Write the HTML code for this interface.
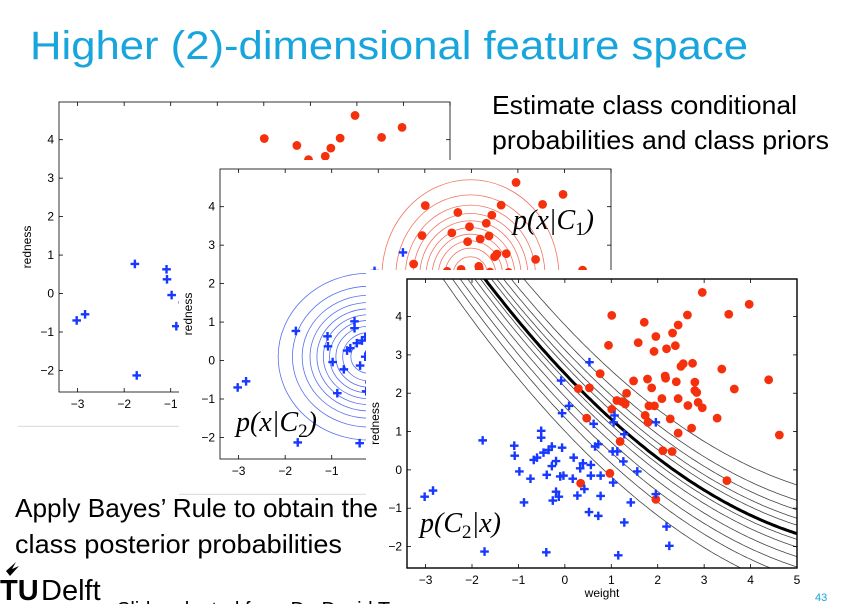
<!DOCTYPE html>
<html><head><meta charset="utf-8"><style>
html,body{margin:0;padding:0;background:#fff;}
svg{display:block;}
</style></head><body>
<svg id="slide" width="845" height="604" viewBox="0 0 845 604" xmlns="http://www.w3.org/2000/svg">
<rect x="0" y="0" width="845" height="604" fill="#fff"/>
<g id="panels"></g>
<text x="30" y="59" font-family="Liberation Sans, sans-serif" font-size="40" fill="#17a5dc" textLength="718" lengthAdjust="spacingAndGlyphs">Higher (2)-dimensional feature space</text>
<text x="492" y="114" font-family="Liberation Sans, sans-serif" font-size="26" fill="#000" textLength="305" lengthAdjust="spacingAndGlyphs">Estimate class conditional</text>
<text x="492" y="149" font-family="Liberation Sans, sans-serif" font-size="26" fill="#000" textLength="337" lengthAdjust="spacingAndGlyphs">probabilities and class priors</text>
<text x="15" y="517" font-family="Liberation Sans, sans-serif" font-size="26" fill="#000" textLength="363" lengthAdjust="spacingAndGlyphs">Apply Bayes’ Rule to obtain the</text>
<text x="15" y="553" font-family="Liberation Sans, sans-serif" font-size="26" fill="#000" textLength="327" lengthAdjust="spacingAndGlyphs">class posterior probabilities</text>
<g>
<path d="M6 571 L16 562 L12 569 L19 566 L10 576 Z" fill="#000"/>
<text x="0" y="600" font-family="Liberation Sans, sans-serif" font-size="29" font-weight="bold" fill="#000">TU</text>
<text x="41" y="600" font-family="Liberation Sans, sans-serif" font-size="29" fill="#000">Delft</text>
</g>
<text x="117" y="616" font-family="Liberation Sans, sans-serif" font-size="20" fill="#000">Slide adapted from Dr. David Tax</text>
<text x="815" y="601" font-family="Liberation Sans, sans-serif" font-size="11" fill="#17a5dc">43</text>
</svg>
<script>
const redX=[1.01,1.71,0.94,1.58,1.96,1.92,2.19,2.32,2.44,2.64,2.38,2.96,3.53,3.97,3.38,4.39,3.65,4.62,3.28,3.49,0.76,0.53,0.29,0.47,1.01,1.12,1.23,1.30,1.33,1.19,1.48,1.78,1.87,1.81,1.93,1.73,1.79,2.09,2.16,2.17,2.40,2.27,2.44,2.44,2.11,2.31,2.50,2.55,2.75,2.80,2.80,2.84,2.65,2.87,2.96,2.73,0.97,0.34,1.96];
const redY=[4.03,3.85,3.25,3.32,3.48,3.09,3.16,3.57,3.78,4.04,3.24,4.63,4.06,4.32,2.63,2.35,2.11,0.91,1.35,-0.28,2.51,2.14,2.12,1.35,1.58,1.81,1.78,1.72,2.0,0.74,2.32,2.37,2.14,1.67,1.67,1.42,1.24,1.86,2.45,2.39,2.30,1.33,1.86,0.96,0.50,0.48,2.70,2.77,2.78,2.29,2.07,2.02,1.68,1.76,1.62,1.09,-0.09,-0.35,-0.77];
const blueX=[0.53,-0.08,0.09,-0.06,1.07,0.62,1.05,1.96,1.28,0.72,0.65,1.03,1.13,1.26,1.56,1.04,0.77,0.77,1.42,1.96,0.52,0.72,1.28,2.19,2.25,1.15,-0.40,-1.73,-1.77,-3.02,-2.84,-1.09,-1.08,-0.98,-0.74,-0.88,-0.51,-0.51,-0.67,-0.60,-0.46,-0.35,-0.28,-0.06,-0.19,-0.28,-0.39,-0.10,-0.03,0.19,0.17,0.39,0.33,0.56,0.56,0.42,0.27,-0.19,-0.13,-0.26];
const blueY=[2.81,2.33,1.67,1.48,1.42,1.20,1.24,1.24,0.93,0.67,0.61,0.48,0.48,0.22,-0.04,-0.33,-0.15,-0.68,-0.85,-0.63,-1.10,-1.20,-1.37,-1.48,-1.98,-2.23,-2.15,-2.13,0.77,-0.70,-0.54,0.63,0.37,-0.04,-0.23,-0.85,1.02,0.84,0.26,0.32,0.45,0.52,0.61,0.58,0.23,0.10,-0.13,-0.17,-0.15,0.32,-0.23,0.17,0.04,0.13,-0.15,-0.50,-0.67,-0.57,-0.70,-0.80];
const xTicks=[-3,-2,-1,0,1,2,3,4,5];
const yTicks=[-2,-1,0,1,2,3,4];
const boundaryCoef=[0.089,-1.28,2.512];
const posteriorOffsets=[1.27,0.87,0.62,0.40,0.22,-0.15,-0.35,-0.60,-0.87,-1.15,-1.50];
const blueMean=[-0.2,0.1];
const redMean=[1.98,2.2];
const blueSpread=[1.95,2.17];
const redSpread=[1.9,2.5];
const densityLevels=[1,2,3,4,5,6,7,8,9,10];

const XMIN=-3.4,XMAX=5,YMIN=-2.56,YMAX=4.98;
const NS="http://www.w3.org/2000/svg";
function mk(tag,attrs,parent){const e=document.createElementNS(NS,tag);for(const k in attrs)e.setAttribute(k,attrs[k]);if(parent)parent.appendChild(e);return e;}
const root=document.getElementById('panels');
let clipId=0;

function drawPanel(cfg){
  const g=mk('g',{},root);
  
  
  const cid='c'+(clipId++);
  const cp=mk('clipPath',{id:cid},g);
  mk('rect',{x:cfg.ix,y:cfg.iy,width:cfg.iw,height:cfg.ih},cp);
  const ig=mk('g',{'clip-path':'url(#'+cid+')'},g);
  mk('rect',{x:cfg.ix,y:cfg.iy,width:cfg.iw,height:cfg.ih,fill:'#fff'},ig);
  if(cfg.bottomLine){
    mk('line',{x1:cfg.ix,x2:cfg.ix+cfg.iw,y1:cfg.iy+cfg.ih-0.5,y2:cfg.iy+cfg.ih-0.5,stroke:'#e0e0e0','stroke-width':1.5},ig);
  }
  const sx=x=>cfg.px+(x-XMIN)/(XMAX-XMIN)*cfg.pw;
  const sy=y=>cfg.py+(YMAX-y)/(YMAX-YMIN)*cfg.ph;
  const pid='c'+(clipId++);
  const pc=mk('clipPath',{id:pid},g);
  mk('rect',{x:cfg.px,y:cfg.py,width:cfg.pw,height:cfg.ph},pc);
  const pg=mk('g',{'clip-path':'url(#'+pid+')'},ig);
  const ux=cfg.pw/(XMAX-XMIN), uy=cfg.ph/(YMAX-YMIN);
  if(cfg.contours){
    const R0=Math.sqrt(-2*Math.log(1/11));
    [[blueMean,blueSpread,'#5870f0'],[redMean,redSpread,'#f07565']].forEach(([m,s,col],ci)=>{
      densityLevels.forEach(k=>{
        const f=Math.sqrt(-2*Math.log(k/11))/R0;
        const e=mk('ellipse',{cx:sx(m[0]),cy:sy(m[1]),rx:s[0]*ux*f,ry:s[1]*uy*f,fill:'none',stroke:col,'stroke-width':0.8},pg);
        
        
      });
    });
  }
  if(cfg.posterior){
    const f=x=>boundaryCoef[0]*x*x+boundaryCoef[1]*x+boundaryCoef[2];
    const offs=posteriorOffsets.concat([0]);
    offs.forEach(o=>{
      let d='';
      for(let x=XMIN;x<=XMAX+0.001;x+=0.05){d+=(d?'L':'M')+sx(x).toFixed(1)+' '+sy(f(x)+o).toFixed(1);}
      const p=mk('path',{d:d,fill:'none',stroke:o===0?'#000':'#444','stroke-width':o===0?3:0.8},pg);
      
      
    });
  }
  redX.forEach((x,i)=>{
    const c=mk('circle',{cx:sx(x),cy:sy(redY[i]),r:4.4,fill:'#f5300c'},pg);
    
    
  });
  blueX.forEach((x,i)=>{
    const X=sx(x),Y=sy(blueY[i]),a=4.3;
    const p=mk('path',{d:`M${X-a} ${Y}H${X+a}M${X} ${Y-a}V${Y+a}`,stroke:'#1638ff','stroke-width':2.4,fill:'none'},pg);
    
    
  });
  const fr=mk('rect',{x:cfg.px,y:cfg.py,width:cfg.pw,height:cfg.ph,fill:'none',stroke:'#000','stroke-width':cfg.fw},ig);
  
  
  xTicks.forEach(t=>{
    const X=sx(t);
    mk('line',{x1:X,x2:X,y1:cfg.py+cfg.ph,y2:cfg.py+cfg.ph-4,stroke:'#000','stroke-width':0.8},ig);
    mk('line',{x1:X,x2:X,y1:cfg.py,y2:cfg.py+4,stroke:'#000','stroke-width':0.8},ig);
    const tx=mk('text',{x:X,y:cfg.py+cfg.ph+16,'text-anchor':'middle','font-family':'Liberation Sans, sans-serif','font-size':12,fill:'#000'},ig);
    tx.textContent=(t<0?'\u2212'+(-t):''+t);
    
    
  });
  yTicks.forEach(t=>{
    const Y=sy(t);
    mk('line',{x1:cfg.px,x2:cfg.px+4,y1:Y,y2:Y,stroke:'#000','stroke-width':0.8},ig);
    mk('line',{x1:cfg.px+cfg.pw,x2:cfg.px+cfg.pw-4,y1:Y,y2:Y,stroke:'#000','stroke-width':0.8},ig);
    const tx=mk('text',{x:cfg.px-5,y:Y+4,'text-anchor':'end','font-family':'Liberation Sans, sans-serif','font-size':12,fill:'#000'},ig);
    tx.textContent=(t<0?'\u2212'+(-t):''+t);
    
    
  });
  const yl=mk('text',{x:0,y:0,transform:`translate(${cfg.px-28},${cfg.py+cfg.ph/2}) rotate(-90)`,'text-anchor':'middle','font-family':'Liberation Sans, sans-serif','font-size':12,fill:'#000'},ig);
  yl.textContent='redness';
  
  
  if(cfg.xlabel){
    const xl=mk('text',{x:cfg.px+cfg.pw/2,y:cfg.py+cfg.ph+29,'text-anchor':'middle','font-family':'Liberation Sans, sans-serif','font-size':12,fill:'#000'},ig);
    xl.textContent='weight';
    
    
  }
  return ig;
}
function mathLabel(parent,x,y,a,b,name){
  const t=mk('text',{x:x,y:y,'font-family':'Liberation Serif, serif','font-size':28,'font-style':'italic',fill:'#000'},parent);
  
  
  t.innerHTML=a+'<tspan font-size="19" dy="6" font-style="normal">'+b+'</tspan><tspan dy="-6">)</tspan>';
}
drawPanel({name:'scatter-panel-back',ix:18,iy:92,iw:437,ih:335,px:59,py:102,pw:391,ph:290,fw:0.8,xlabel:false,bottomLine:true});
const mid=drawPanel({name:'density-panel-middle',ix:179,iy:160,iw:441,ih:335,px:220,py:169,pw:391,ph:290,fw:0.8,contours:true,xlabel:false,bottomLine:true});
mathLabel(mid,513,229,'p(x|C','1','class1-density-label');
mathLabel(mid,236,431,'p(x|C','2','class2-density-label');
const front=drawPanel({name:'posterior-panel-front',ix:366,iy:270,iw:440,ih:340,px:407,py:279,pw:390,ph:289,fw:1.4,posterior:true,xlabel:true});
const t=mk('text',{x:420,y:532,'font-family':'Liberation Serif, serif','font-size':28,'font-style':'italic',fill:'#000'},front);


t.innerHTML='p(C<tspan font-size="19" dy="6" font-style="normal">2</tspan><tspan dy="-6">|x)</tspan>';
</script>
</body></html>
